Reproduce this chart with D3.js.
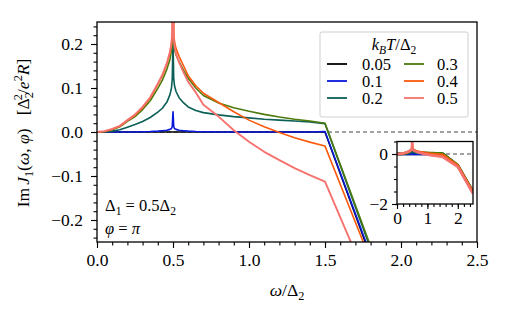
<!DOCTYPE html>
<html>
<head>
<meta charset="utf-8">
<script src="https://cdn.jsdelivr.net/npm/d3@7"></script>
<style>
  body { margin: 0; background: #fff; }
  svg { display: block; }
  svg text { font-family: "Liberation Serif", "Times New Roman", "DejaVu Serif", serif !important; fill: #000; }
</style>
</head>
<body>
<svg id="chart" width="505" height="316"></svg>
<script>
// omega / Delta_2 sample points
const omega = [0, 0.05, 0.1, 0.15, 0.2, 0.25, 0.3, 0.35, 0.4, 0.43, 0.46, 0.48, 0.49, 0.495, 0.5,
  0.505, 0.51, 0.52, 0.54, 0.57, 0.6, 0.65, 0.7, 0.8, 0.9, 1.0, 1.1, 1.2, 1.3, 1.4, 1.5, 2.0, 2.5];

// Im J1 values for each temperature kBT/Delta_2
const t005 = [0, 0, 0, 0, 0, 0, 0, 0, 0, 0, 0, 0, 0, 0, 0,
  0, 0, 0, 0, 0, 0, 0, 0, 0, 0, 0, 0, 0, 0, 0, 0, -0.472, -1.53];
const t01 = [0, 0, 0, 0, 0, 0, 0.0005, 0.001, 0.002, 0.003, 0.004, 0.006, 0.008, 0.012, 0.046,
  0.012, 0.008, 0.006, 0.004, 0.003, 0.002, 0.001, 0.0005, 0, 0, 0, 0, 0, 0, 0, 0.001, -0.466, -1.52];
const t02 = [0, 0, 0.002, 0.005, 0.011, 0.017, 0.024, 0.033, 0.045, 0.054, 0.068, 0.085, 0.1, 0.12, 0.205,
  0.12, 0.105, 0.092, 0.078, 0.066, 0.057, 0.049, 0.044, 0.039, 0.035, 0.032, 0.029, 0.027, 0.025, 0.023, 0.019, -0.455, -1.5];
const t03 = [0, 0.001, 0.005, 0.012, 0.024, 0.035, 0.051, 0.071, 0.099, 0.118, 0.143, 0.165, 0.185, 0.205, 0.235,
  0.205, 0.188, 0.175, 0.16, 0.14, 0.122, 0.1, 0.083, 0.066, 0.055, 0.047, 0.04, 0.034, 0.029, 0.025, 0.02, -0.446, -1.5];
const t04 = [0, 0.001, 0.006, 0.013, 0.026, 0.038, 0.055, 0.077, 0.108, 0.128, 0.155, 0.18, 0.2, 0.225, 0.4,
  0.225, 0.205, 0.19, 0.172, 0.15, 0.128, 0.105, 0.088, 0.067, 0.046, 0.027, 0.012, -0.001, -0.013, -0.023, -0.032, -0.465, -1.52];
const t05 = [0, 0.002, 0.007, 0.014, 0.027, 0.04, 0.057, 0.079, 0.11, 0.13, 0.157, 0.182, 0.202, 0.226, 0.5,
  0.215, 0.195, 0.178, 0.158, 0.135, 0.114, 0.09, 0.062, 0.035, 0.004, -0.022, -0.045, -0.064, -0.082, -0.098, -0.113, -0.516, -1.58];

const labels = ["0.05", "0.1", "0.2", "0.3", "0.4", "0.5"];
const colors = ["#000000", "#0a18dc", "#0c5f57", "#4e7a0c", "#fa5a0c", "#f6726e"];
const seriesList = [t005, t01, t02, t03, t04, t05];

const xTicks = [0, 0.5, 1.0, 1.5, 2.0, 2.5];
const yTicks = [-0.2, -0.1, 0.0, 0.1, 0.2];
const insetXTicks = [0, 1, 2];
const insetYTicks = [0, -2];

const svg = d3.select("#chart");
const FS = 17.5;
const FS_SMALL = 16.5;
const SERIF = '"Liberation Serif", "Times New Roman", "DejaVu Serif", serif';

// main axes
const x = d3.scaleLinear().domain([0, 2.5]).range([97, 477]);
const y = d3.scaleLinear().domain([-0.25, 0.25]).range([242, 22]);

// inset axes
const xi = d3.scaleLinear().domain([0, 2.5]).range([397, 473]);
const yi = d3.scaleLinear().domain([-2, 0.5]).range([204, 141.5]);

// helper for text with italics, sub/superscripts
function rich(sel, parts, size) {
  sel.style("font-family", SERIF).attr("font-size", size);
  let cur = 0;
  parts.forEach(p => {
    const ts = sel.append("tspan").text(p.t);
    let off = 0, fs = size;
    if (p.pos === "sub") { off = size * 0.25; fs = size * 0.7; }
    if (p.pos === "sup") { off = -size * 0.38; fs = size * 0.7; }
    ts.attr("dy", off - cur).attr("font-size", fs);
    if (p.dx) ts.attr("dx", p.dx);
    cur = off;
    if (p.i) ts.attr("font-style", "italic");
  });
  return sel;
}

svg.append("clipPath").attr("id", "clipMain").append("rect")
  .attr("x", 97).attr("y", 22).attr("width", 380).attr("height", 220);
svg.append("clipPath").attr("id", "clipInset").append("rect")
  .attr("x", 397).attr("y", 141.5).attr("width", 76).attr("height", 62.5);

// zero line, dashed
svg.append("line")
  .attr("x1", x(0)).attr("x2", x(2.5)).attr("y1", y(0)).attr("y2", y(0))
  .attr("stroke", "#444").attr("stroke-width", 1).attr("stroke-dasharray", "4,3");

const line = d3.line().x((d, i) => x(omega[i])).y(d => y(d));
const mainG = svg.append("g").attr("clip-path", "url(#clipMain)");
seriesList.forEach((s, k) => {
  mainG.append("path")
    .datum(s)
    .attr("fill", "none")
    .attr("stroke", colors[k])
    .attr("stroke-width", k === 5 ? 1.9 : 1.6)
    .attr("stroke-linejoin", "round")
    .attr("d", line);
});

// main frame
svg.append("rect").attr("x", 97).attr("y", 22).attr("width", 380).attr("height", 220)
  .attr("fill", "none").attr("stroke", "#000").attr("stroke-width", 1.3);

// axes with major & minor ticks
function styleAxis(g) {
  g.attr("font-family", null);
  g.select(".domain").remove();
  g.selectAll(".tick line").attr("stroke", "#000").attr("stroke-width", 1.1);
  g.selectAll(".tick text").attr("font-size", FS).style("font-family", SERIF);
}
const xMinor = d3.range(0, 2.51, 0.1);
const yMinor = d3.range(-0.24, 0.2401, 0.02);

svg.append("g").attr("transform", "translate(0,242)")
  .call(d3.axisBottom(x).tickValues(xMinor).tickSize(3.5).tickFormat(""))
  .call(styleAxis);
svg.append("g").attr("transform", "translate(0,242)")
  .call(d3.axisBottom(x).tickValues(xTicks).tickSize(6).tickPadding(6).tickFormat(d3.format(".1f")))
  .call(styleAxis);
svg.append("g").attr("transform", "translate(97,0)")
  .call(d3.axisLeft(y).tickValues(yMinor).tickSize(3.5).tickFormat(""))
  .call(styleAxis);
svg.append("g").attr("transform", "translate(97,0)")
  .call(d3.axisLeft(y).tickValues(yTicks).tickSize(6).tickPadding(8).tickFormat(d3.format(".1f")))
  .call(styleAxis);

// axis labels
rich(svg.append("text").attr("x", 287).attr("y", 296).attr("text-anchor", "middle"),
  [{t: "ω", i: true}, {t: "/Δ"}, {t: "2", pos: "sub"}], FS);

rich(svg.append("text").attr("transform", "translate(29,133) rotate(-90)").attr("text-anchor", "middle"),
  [{t: "Im"}, {t: "J", i: true, dx: 3}, {t: "1", pos: "sub"}, {t: "("}, {t: "ω", i: true}, {t: ", "},
   {t: "φ", i: true}, {t: ")\u00a0\u00a0\u00a0[Δ"}, {t: "2", pos: "sub"}, {t: "2", pos: "sup", dx: -8}, {t: "/"},
   {t: "e", i: true}, {t: "2", pos: "sup"}, {t: "R", i: true}, {t: "]"}], FS);

// annotations
rich(svg.append("text").attr("x", 105).attr("y", 211),
  [{t: "Δ"}, {t: "1", pos: "sub"}, {t: " = 0.5Δ"}, {t: "2", pos: "sub"}], FS_SMALL);
rich(svg.append("text").attr("x", 105).attr("y", 234),
  [{t: "φ", i: true}, {t: " = "}, {t: "π", i: true}], FS_SMALL);

// legend
const lg = svg.append("g");
lg.append("rect").attr("x", 320).attr("y", 32).attr("width", 148).attr("height", 85).attr("rx", 2)
  .attr("fill", "#fff").attr("fill-opacity", 0.85).attr("stroke", "#cfcfcf").attr("stroke-width", 1);
rich(lg.append("text").attr("x", 394).attr("y", 50).attr("text-anchor", "middle"),
  [{t: "k", i: true}, {t: "B", i: true, pos: "sub"}, {t: "T", i: true}, {t: "/Δ"}, {t: "2", pos: "sub"}], FS_SMALL);
labels.forEach((lab, k) => {
  const col = Math.floor(k / 3), row = k % 3;
  const lx = col === 0 ? 327 : 404;
  const tx = col === 0 ? 362 : 437;
  const ly = 64 + row * 17;
  lg.append("line").attr("x1", lx).attr("x2", lx + 20).attr("y1", ly).attr("y2", ly)
    .attr("stroke", colors[k]).attr("stroke-width", 1.8);
  lg.append("text").attr("x", tx).attr("y", ly + 5.5).attr("font-size", FS_SMALL)
    .style("font-family", SERIF).text(lab);
});

// inset
svg.append("rect").attr("x", 397).attr("y", 141.5).attr("width", 76).attr("height", 62.5).attr("fill", "#fff");
svg.append("line")
  .attr("x1", xi(0)).attr("x2", xi(2.5)).attr("y1", yi(0)).attr("y2", yi(0))
  .attr("stroke", "#444").attr("stroke-width", 1).attr("stroke-dasharray", "4,3");
const lineI = d3.line().x((d, i) => xi(omega[i])).y(d => yi(d));
const insetG = svg.append("g").attr("clip-path", "url(#clipInset)");
seriesList.forEach((s, k) => {
  insetG.append("path")
    .datum(s)
    .attr("fill", "none")
    .attr("stroke", colors[k])
    .attr("stroke-width", 2.6)
    .attr("stroke-linejoin", "round")
    .attr("d", lineI);
});
svg.append("rect").attr("x", 397).attr("y", 141.5).attr("width", 76).attr("height", 62.5)
  .attr("fill", "none").attr("stroke", "#000").attr("stroke-width", 1.3);

svg.append("g").attr("transform", "translate(0,204)")
  .call(d3.axisBottom(xi).tickValues(d3.range(0, 2.51, 0.2)).tickSize(3).tickFormat(""))
  .call(styleAxis);
svg.append("g").attr("transform", "translate(0,204)")
  .call(d3.axisBottom(xi).tickValues(insetXTicks).tickSize(5).tickPadding(3).tickFormat(d3.format("d")))
  .call(styleAxis);
svg.append("g").attr("transform", "translate(397,0)")
  .call(d3.axisLeft(yi).tickValues(d3.range(-2, 0.51, 0.5)).tickSize(3).tickFormat(""))
  .call(styleAxis);
svg.append("g").attr("transform", "translate(397,0)")
  .call(d3.axisLeft(yi).tickValues(insetYTicks).tickSize(5).tickPadding(4).tickFormat(d3.format("d")))
  .call(styleAxis);
</script>
</body>
</html>
